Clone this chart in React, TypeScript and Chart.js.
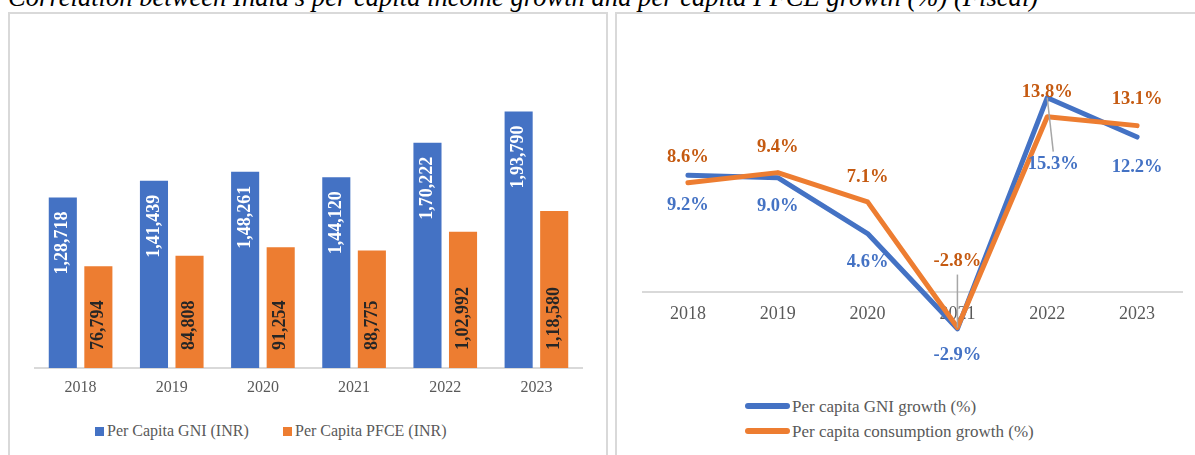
import React, { useEffect, useRef } from 'react';
import { Chart, registerables } from 'chart.js';

Chart.register(...registerables);

// ---------- data ----------
const categories = ['2018', '2019', '2020', '2021', '2022', '2023'];
const perCapitaGNI = [128718, 141439, 148261, 144120, 170222, 193790];
const perCapitaPFCE = [76794, 84808, 91254, 88775, 102992, 118580];
const gniGrowth = [9.2, 9.0, 4.6, -2.9, 15.3, 12.2];
const pfceGrowth = [8.6, 9.4, 7.1, -2.8, 13.8, 13.1];

const barSeriesNames = ['Per Capita GNI (INR)', 'Per Capita PFCE (INR)'];
const lineSeriesNames = ['Per capita GNI growth (%)', 'Per capita consumption growth (%)'];
const titleText = "Correlation between India's per capita income growth and per capita PFCE growth (%) (Fiscal)";

// ---------- styles ----------
const BLUE = '#4472C4';
const ORANGE = '#ED7D31';
const ORANGE_TEXT = '#C55A11';
const GRAY_TEXT = '#595959';
const BORDER = '#D9D9D9';
const SERIF = '"Liberation Serif", "Times New Roman", serif';

function formatIndian(n: number): string {
  const s = String(Math.round(n));
  if (s.length <= 3) return s;
  const last3 = s.slice(-3);
  let rest = s.slice(0, -3);
  const parts: string[] = [];
  while (rest.length > 2) {
    parts.unshift(rest.slice(-2));
    rest = rest.slice(0, -2);
  }
  if (rest.length) parts.unshift(rest);
  return parts.join(',') + ',' + last3;
}

const barLabelPlugin = {
  id: 'barLabels',
  afterDatasetsDraw(chart: any) {
    const ctx = chart.ctx;
    ctx.save();
    ctx.font = `bold 18px ${SERIF}`;
    ctx.textBaseline = 'middle';
    chart.data.datasets.forEach((ds: any, di: number) => {
      const meta = chart.getDatasetMeta(di);
      meta.data.forEach((bar: any, i: number) => {
        const { x, y, base } = bar.getProps(['x', 'y', 'base'], true);
        const text = formatIndian(ds.data[i]);
        ctx.save();
        if (di === 0) {
          ctx.translate(x, y + 14);
          ctx.rotate(-Math.PI / 2);
          ctx.textAlign = 'right';
          ctx.fillStyle = '#FFFFFF';
        } else {
          ctx.translate(x, base - 18);
          ctx.rotate(-Math.PI / 2);
          ctx.textAlign = 'left';
          ctx.fillStyle = '#262626';
        }
        ctx.fillText(text, 0, 0);
        ctx.restore();
      });
    });
    ctx.restore();
  },
};

const lineLabelPlugin = {
  id: 'lineLabels',
  afterDatasetsDraw(chart: any, _args: any, opts: any) {
    const ctx = chart.ctx;
    ctx.save();
    ctx.font = `bold 18.5px ${SERIF}`;
    ctx.textAlign = 'center';
    ctx.textBaseline = 'middle';
    chart.data.datasets.forEach((ds: any, di: number) => {
      const meta = chart.getDatasetMeta(di);
      const cfg = opts.series[di];
      meta.data.forEach((pt: any, i: number) => {
        const [dx, dy] = cfg.offsets[i];
        const tx = pt.x + dx;
        const ty = pt.y + dy;
        if (cfg.leaders[i]) {
          ctx.strokeStyle = '#A6A6A6';
          ctx.lineWidth = 1.5;
          ctx.beginPath();
          ctx.moveTo(pt.x, pt.y);
          ctx.lineTo(tx, ty - Math.sign(dy) * 13);
          ctx.stroke();
        }
        ctx.fillStyle = cfg.color;
        ctx.fillText(Number(ds.data[i]).toFixed(1) + '%', tx, ty);
      });
    });
    ctx.restore();
  },
};

function Txt(props: { left: number; baseline: number; size: number; color?: string; italic?: boolean; children: React.ReactNode }) {
  const { left, baseline, size, color, italic, children } = props;
  return (
    <div
      style={{
        position: 'absolute',
        left,
        top: baseline - 0.8375 * size,
        fontSize: size,
        lineHeight: size + 'px',
        fontFamily: SERIF,
        fontStyle: italic ? 'italic' : 'normal',
        color: color || '#000',
        whiteSpace: 'nowrap',
      }}
    >
      {children}
    </div>
  );
}

export default function App() {
  const barRef = useRef<HTMLCanvasElement | null>(null);
  const lineRef = useRef<HTMLCanvasElement | null>(null);

  useEffect(() => {
    const barChart = new Chart(barRef.current as HTMLCanvasElement, {
      type: 'bar',
      data: {
        labels: categories,
        datasets: [
          { label: barSeriesNames[0], data: perCapitaGNI, backgroundColor: BLUE, categoryPercentage: 0.78, barPercentage: 0.79 },
          { label: barSeriesNames[1], data: perCapitaPFCE, backgroundColor: ORANGE, categoryPercentage: 0.78, barPercentage: 0.79 },
        ],
      },
      options: {
        responsive: false,
        animation: false,
        layout: { padding: { left: 25, right: 23, top: 23, bottom: 7.8 } },
        plugins: { legend: { display: false }, tooltip: { enabled: false } },
        scales: {
          x: {
            grid: { display: false, drawTicks: false },
            border: { display: true, color: BORDER, width: 2 },
            ticks: { color: GRAY_TEXT, font: { family: SERIF, size: 16 }, padding: 10 },
          },
          y: { display: false, min: 0, max: 250000 },
        },
      },
      plugins: [barLabelPlugin],
    } as any);

    const lineChart = new Chart(lineRef.current as HTMLCanvasElement, {
      type: 'line',
      data: {
        labels: categories,
        datasets: [
          {
            label: lineSeriesNames[0], data: gniGrowth, borderColor: BLUE, backgroundColor: BLUE,
            borderWidth: 5, pointRadius: 0, tension: 0, borderCapStyle: 'round', borderJoinStyle: 'round', order: 2, clip: false,
          },
          {
            label: lineSeriesNames[1], data: pfceGrowth, borderColor: ORANGE, backgroundColor: ORANGE,
            borderWidth: 5, pointRadius: 0, tension: 0, borderCapStyle: 'round', borderJoinStyle: 'round', order: 1, clip: false,
          },
        ],
      },
      options: {
        responsive: false,
        animation: false,
        layout: { padding: { left: 26, right: 13, top: 24, bottom: 8.5 } },
        plugins: {
          legend: { display: false },
          tooltip: { enabled: false },
          lineLabels: {
            series: [
              { color: BLUE, offsets: [[0, 30], [0, 29], [0, 29], [0, 26], [6, 67], [0, 30]], leaders: [false, false, false, false, true, false] },
              { color: ORANGE_TEXT, offsets: [[0, -26], [0, -25], [0, -25], [0, -66], [0, -25], [0, -26]], leaders: [false, false, false, true, false, false] },
            ],
          },
        },
        scales: {
          x: {
            position: { y: 0 },
            offset: true,
            grid: { display: false, drawTicks: false },
            border: { display: true, color: BORDER, width: 2 },
            ticks: { color: GRAY_TEXT, font: { family: SERIF, size: 18 }, padding: 11 },
          },
          y: { display: false, min: -5, max: 20 },
        },
      },
      plugins: [lineLabelPlugin],
    } as any);

    return () => {
      barChart.destroy();
      lineChart.destroy();
    };
  }, []);

  return (
    <div style={{ position: 'absolute', left: 0, top: 0, width: 1195, height: 455, overflow: 'hidden', background: '#fff' }}>
      <Txt left={8} baseline={6} size={26.6} italic>{titleText}</Txt>

      {/* left panel */}
      <div style={{ position: 'absolute', left: 8, top: 12, width: 596, height: 460, border: `2px solid ${BORDER}` }} />
      <canvas ref={barRef} width={595} height={401} style={{ position: 'absolute', left: 10, top: 14, width: 595, height: 401 }} />
      <div style={{ position: 'absolute', left: 95, top: 427, width: 9, height: 9, background: BLUE }} />
      <Txt left={107} baseline={436} size={16} color={GRAY_TEXT}>{barSeriesNames[0]}</Txt>
      <div style={{ position: 'absolute', left: 283, top: 427, width: 9, height: 9, background: ORANGE }} />
      <Txt left={295} baseline={436} size={16} color={GRAY_TEXT}>{barSeriesNames[1]}</Txt>

      {/* right panel */}
      <div style={{ position: 'absolute', left: 615, top: 12, width: 600, height: 460, border: `2px solid ${BORDER}` }} />
      <canvas ref={lineRef} width={578} height={350} style={{ position: 'absolute', left: 617, top: 14, width: 578, height: 350 }} />
      <div style={{ position: 'absolute', left: 745, top: 403, width: 45, height: 6, borderRadius: 3, background: BLUE }} />
      <Txt left={792} baseline={412} size={17} color={GRAY_TEXT}>{lineSeriesNames[0]}</Txt>
      <div style={{ position: 'absolute', left: 745, top: 428, width: 45, height: 6, borderRadius: 3, background: ORANGE }} />
      <Txt left={792} baseline={437} size={17} color={GRAY_TEXT}>{lineSeriesNames[1]}</Txt>
    </div>
  );
}
